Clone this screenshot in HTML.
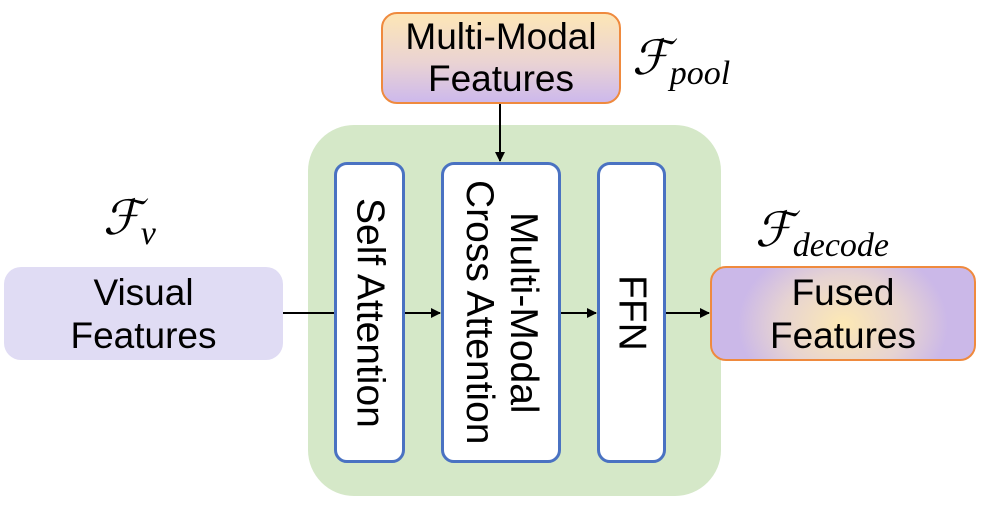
<!DOCTYPE html>
<html><head><meta charset="utf-8"><style>
body{margin:0;width:987px;height:505px;background:#fff;position:relative;overflow:hidden;font-family:"Liberation Sans",sans-serif;}
.a{position:absolute;box-sizing:border-box;}
.t{display:flex;align-items:center;justify-content:center;text-align:center;font-size:37px;line-height:43px;color:#000;}
.blue{background:#fff;border:3.5px solid #4a72c2;border-radius:13px;}
.v{writing-mode:vertical-rl;font-size:39px;line-height:44px;}
.m{font-family:"Liberation Serif","DejaVu Serif",serif;font-style:italic;font-size:48px;color:#000;white-space:nowrap;}
.m sub{font-size:34px;vertical-align:-10px;}
</style></head><body>
<div class="a t" style="left:381px;top:12px;width:240px;height:92px;border:2.5px solid #ef8a3e;border-radius:16px;background:linear-gradient(#fde6b6,#ead3d3 55%,#cdb9ec);font-size:37px;line-height:42px;">Multi-Modal<br>Features</div>
<div class="a m" style="left:632px;top:30px;">ℱ<sub>pool</sub></div>
<div class="a" style="left:308px;top:125px;width:413px;height:371px;background:#d5e8c8;border-radius:46px;"></div>
<div class="a t blue v" style="left:334px;top:162px;width:71px;height:301px;">Self Attention</div>
<div class="a t blue v" style="left:441px;top:162px;width:120px;height:301px;">Multi-Modal<br>Cross Attention</div>
<div class="a t blue v" style="left:597px;top:162px;width:69px;height:301px;">FFN</div>
<div class="a t" style="left:4px;top:267px;width:279px;height:93px;background:#e0dcf4;border-radius:17px;">Visual<br>Features</div>
<div class="a m" style="left:103px;top:190px;">ℱ<sub>v</sub></div>
<div class="a t" style="left:710px;top:266px;width:266px;height:95px;border:2.5px solid #ef8a3e;border-radius:16px;background:radial-gradient(ellipse 40% 90% at 50% 62%,#fde9b4,#e6d3d2 60%,#cbb8e8);">Fused<br>Features</div>
<div class="a m" style="left:755px;top:202px;">ℱ<sub>decode</sub></div>
<svg class="a" style="left:0;top:0" width="987" height="505">
<defs><marker id="ar" markerWidth="10" markerHeight="10" refX="9" refY="5" orient="auto" markerUnits="userSpaceOnUse"><path d="M0,0 L10,5 L0,10 z" fill="#000"/></marker></defs>
<g stroke="#000" stroke-width="2">
<line x1="283" y1="313" x2="334" y2="313"/>
<line x1="405" y1="313" x2="440" y2="313" marker-end="url(#ar)"/>
<line x1="561" y1="313" x2="596" y2="313" marker-end="url(#ar)"/>
<line x1="666" y1="313" x2="709" y2="313" marker-end="url(#ar)"/>
<line x1="500" y1="104" x2="500" y2="161" marker-end="url(#ar)"/>
</g></svg>
</body></html>
